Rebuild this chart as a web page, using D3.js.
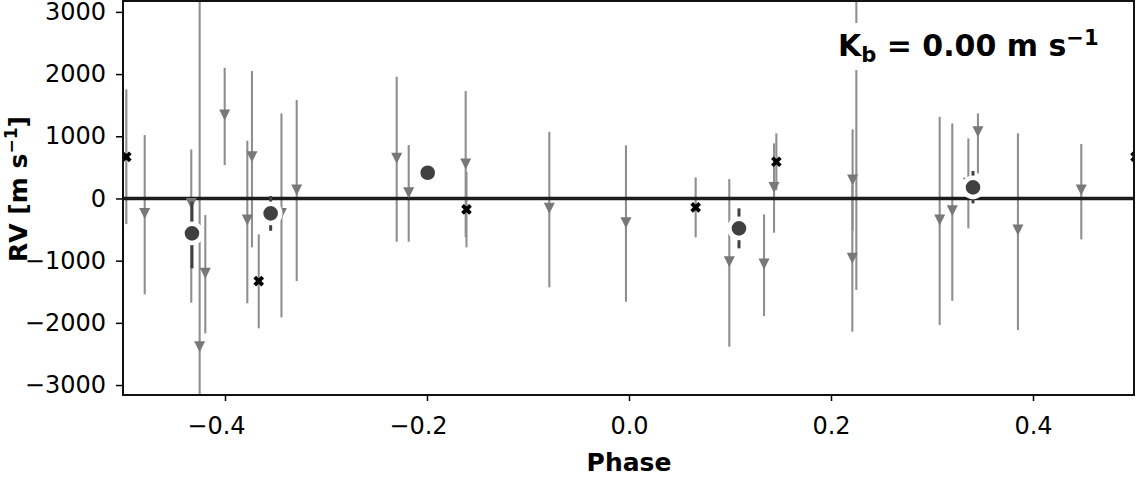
<!DOCTYPE html>
<html><head><meta charset="utf-8">
<script src="https://cdn.jsdelivr.net/npm/d3@7"></script>
<style>
body{margin:0;background:#fff}
svg text{font-family:"DejaVu Sans",sans-serif}
</style>
</head><body>
<svg id="chart" width="1136" height="477"></svg>
<script>
// ---- data ----
const xTicks = [-0.4, -0.2, 0.0, 0.2, 0.4];
const yTicks = [-3000, -2000, -1000, 0, 1000, 2000, 3000];

// grey downward triangles
const triPhase = [-0.4795,-0.4334,-0.4251,-0.4195,-0.4003,-0.3779,-0.3733,-0.3441,-0.3290,-0.2300,-0.2181,-0.1617,-0.0789,-0.0030,0.0993,0.1337,0.1436,0.2214,0.2211,0.2251,0.3076,0.3201,0.3360,0.3455,0.3851,0.4478];
const triRV    = [-240,-79,-2384,-1204,1341,-347,670,-240,135,645,92,553,-159,-391,-1018,-1055,178,296,-963,2466,-347,-198,243,1072,-508,135];
const triLo    = [-1542,-1677,-8384,-2169,537,-1686,-786,-1912,-1328,-696,-696,-621,-1429,-1661,-2384,-1891,-551,-519,-2143,-1473,-2035,-1645,-481,404,-2116,-658];
const triHi    = [1019,789,3616,-267,2101,928,2048,1368,1582,1957,859,1727,1072,854,312,-256,886,1111,215,6400,1313,1207,966,1368,1047,875];

// black X markers
const crossPhase = [-0.4977,-0.3666,-0.1609,0.0660,0.1459,0.5015];
const crossRV    = [670,-1328,-175,-143,590,670];
const crossLo    = [-412,-2088,-786,-625,135,-412];
const crossHi    = [1754,-577,429,339,1047,1754];

// dark circles (binned)
const binPhase = [-0.4327,-0.3548,-0.1993,0.1089,0.3406];
const binRV    = [-561,-240,413,-481,178];
const binLo    = [-1124,-519,413,-802,-79];
const binHi    = [-53,39,413,-159,441];

const modelK = "0.00";

// ---- layout ----
const svg = d3.select("#chart");
const L = 124, R = 1134, T = 1, B = 395;
const x = d3.scaleLinear().domain([-0.5, 0.5]).range([L, R]);
const y = d3.scaleLinear().domain([-3160, 3175]).range([B, T]);

svg.append("defs").append("clipPath").attr("id","clip")
  .append("rect").attr("x",L).attr("y",T).attr("width",R-L).attr("height",B-T);

const plot = svg.append("g").attr("clip-path","url(#clip)");

const tri = triPhase.map((p,i)=>({p, v:triRV[i], lo:triLo[i], hi:triHi[i]}));
const crs = crossPhase.map((p,i)=>({p, v:crossRV[i], lo:crossLo[i], hi:crossHi[i]}));
const bins = binPhase.map((p,i)=>({p, v:binRV[i], lo:binLo[i], hi:binHi[i]}));

// grey error bars
plot.append("g").selectAll("line").data(tri.concat(crs)).join("line")
  .attr("x1",d=>x(d.p)).attr("x2",d=>x(d.p))
  .attr("y1",d=>y(d.lo)).attr("y2",d=>y(d.hi))
  .attr("stroke","#8f8f8f").attr("stroke-width",2.1);

// zero line
plot.append("line").attr("x1",L).attr("x2",R).attr("y1",y(0)).attr("y2",y(0))
  .attr("stroke","#1c1c1c").attr("stroke-width",3.6);

// triangles
const h = 5.5;
plot.append("g").selectAll("path").data(tri).join("path")
  .attr("transform",d=>`translate(${x(d.p)},${y(d.v)})`)
  .attr("d",`M${-h},${-h}L${h},${-h}L0,${h}Z`)
  .attr("fill","#787878");

// X markers
const c = 4;
plot.append("g").selectAll("path").data(crs).join("path")
  .attr("transform",d=>`translate(${x(d.p)},${y(d.v)})`)
  .attr("d",`M${-c},${-c}L${c},${c}M${-c},${c}L${c},${-c}`)
  .attr("stroke","#000").attr("stroke-width",3.8).attr("fill","none");

// binned error bars + circles
plot.append("g").selectAll("line").data(bins).join("line")
  .attr("x1",d=>x(d.p)).attr("x2",d=>x(d.p))
  .attr("y1",d=>y(d.lo)).attr("y2",d=>y(d.hi))
  .attr("stroke","#404040").attr("stroke-width",3);
plot.append("g").selectAll("circle").data(bins).join("circle")
  .attr("cx",d=>x(d.p)).attr("cy",d=>y(d.v)).attr("r",9.6)
  .attr("fill","#404040").attr("stroke","#fff").attr("stroke-width",4.6);

// axes
const fmtX = d3.format(".1f");
const gx = svg.append("g").attr("transform",`translate(0,${B})`)
  .call(d3.axisBottom(x).tickValues(xTicks).tickFormat(fmtX).tickSize(6).tickPadding(16));
gx.select(".domain").remove();
gx.selectAll(".tick line").attr("stroke","#000").attr("stroke-width",1.5);
gx.selectAll(".tick text").attr("font-size",24).attr("fill","#000")
  .attr("font-family","DejaVu Sans").attr("dx",d=>d<0?-9:0);

const gy = svg.append("g").attr("transform",`translate(${L-1},0)`)
  .call(d3.axisLeft(y).tickValues(yTicks).tickFormat(d3.format("d")).tickSize(7).tickPadding(10));
gy.select(".domain").remove();
gy.selectAll(".tick line").attr("stroke","#000").attr("stroke-width",1.5);
gy.selectAll(".tick text").attr("font-size",24).attr("fill","#000").attr("font-family","DejaVu Sans");

// spines
svg.append("rect").attr("x",L-1).attr("y",T).attr("width",R-L+1).attr("height",B-T)
  .attr("fill","none").attr("stroke","#111").attr("stroke-width",2);

// axis labels
svg.append("text").attr("x",(L+R)/2).attr("y",471).attr("text-anchor","middle")
  .attr("font-size",25).attr("font-weight","bold").attr("fill","#000").text("Phase");

const yl = svg.append("text").attr("transform","translate(27,189) rotate(-90)")
  .attr("text-anchor","middle").attr("font-size",25).attr("font-weight","bold").attr("fill","#000");
yl.append("tspan").text("RV [m s");
yl.append("tspan").attr("font-size",17).attr("dy",-10).text("−1");
yl.append("tspan").attr("dy",10).text("]");

// annotation with white box
const ann = svg.append("g");
const box = ann.append("rect").attr("fill","#fff");
const at = ann.append("text").attr("x",838).attr("y",56).attr("font-size",30)
  .attr("font-weight","bold").attr("fill","#000");
at.append("tspan").text("K");
at.append("tspan").attr("font-size",21).attr("dy",6).text("b");
at.append("tspan").attr("dy",-6).text(` = ${modelK} m s`);
at.append("tspan").attr("font-size",21).attr("dy",-11).text("−1");
const bb = at.node().getBBox();
box.attr("x",bb.x-6).attr("y",bb.y-3).attr("width",bb.width+12).attr("height",bb.height+6);
</script>
</body></html>
